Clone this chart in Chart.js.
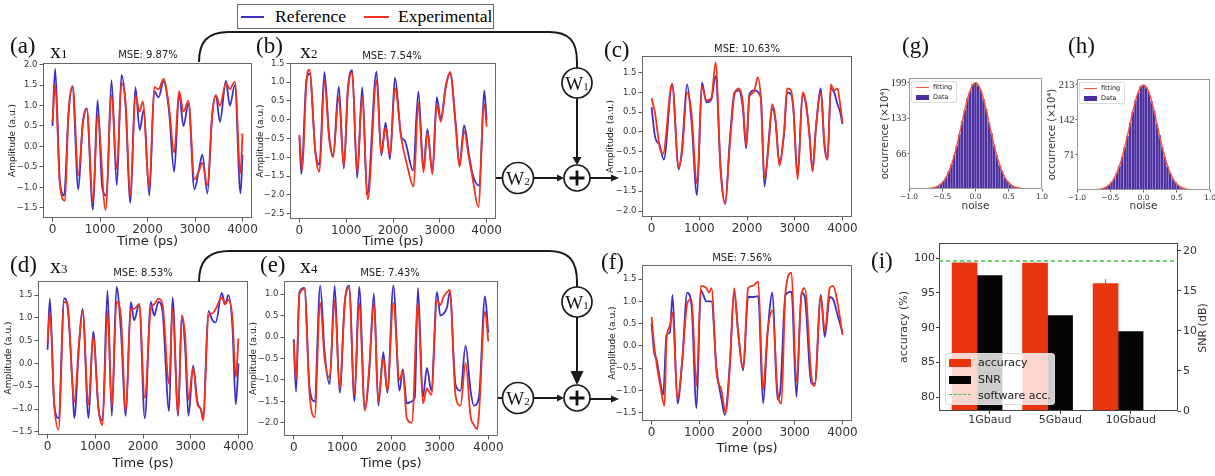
<!DOCTYPE html>
<html>
<head>
<meta charset="utf-8">
<script src="https://cdn.jsdelivr.net/npm/chart.js@4.4.1/dist/chart.umd.min.js"></script>
<style>
body { margin: 0; background: #fff; font-family: "DejaVu Sans", sans-serif; }
#page { position: relative; width: 1215px; height: 476px; overflow: hidden; font-family: "DejaVu Sans", sans-serif; }
canvas { position: absolute; }
.lbl { position: absolute; font-family: "Liberation Serif", serif; font-size: 23px; line-height: 1; color: #111; white-space: nowrap; }
.var { position: absolute; font-family: "Liberation Serif", serif; font-size: 22px; line-height: 1; color: #111; white-space: nowrap; }
.var span { font-size: 13px; }
.mse { position: absolute; font-size: 10px; color: #222; transform: translate(-50%, -50%); white-space: nowrap; }
.box { position: absolute; box-sizing: border-box; font-family: "DejaVu Sans", sans-serif; }
.sw { position: absolute; }
.tx { position: absolute; white-space: nowrap; line-height: 1; }
</style>
</head>
<body>
<div id="page">
  <!-- top legend -->
  <div class="box" style="left:237px;top:4px;width:257px;height:25px;border:1px solid #666;font-family:'Liberation Serif',serif;font-size:17.5px;">
    <div class="sw" id="legRef" style="left:3px;top:11px;width:23px;height:1.6px;"></div>
    <div class="tx" style="left:37px;top:3px;">Reference</div>
    <div class="sw" id="legExp" style="left:126px;top:11px;width:25px;height:1.6px;"></div>
    <div class="tx" style="left:160px;top:3px;">Experimental</div>
  </div>

  <!-- panel letters -->
  <div class="lbl" style="left:10px;top:34px;">(a)</div>
  <div class="var" style="left:50px;top:40px;">x<span>1</span></div>
  <div class="lbl" style="left:256px;top:34px;">(b)</div>
  <div class="var" style="left:300px;top:40px;">x<span>2</span></div>
  <div class="lbl" style="left:604px;top:38px;">(c)</div>
  <div class="lbl" style="left:10px;top:253px;">(d)</div>
  <div class="var" style="left:50px;top:255px;">x<span>3</span></div>
  <div class="lbl" style="left:260px;top:253px;">(e)</div>
  <div class="var" style="left:300px;top:255px;">x<span>4</span></div>
  <div class="lbl" style="left:601px;top:250px;">(f)</div>
  <div class="lbl" style="left:902px;top:34px;">(g)</div>
  <div class="lbl" style="left:1068px;top:34px;">(h)</div>
  <div class="lbl" style="left:871px;top:249px;">(i)</div>

  <div class="mse" style="left:148px;top:54px;">MSE: 9.87%</div>
  <div class="mse" style="left:392px;top:55px;">MSE: 7.54%</div>
  <div class="mse" style="left:747px;top:48px;">MSE: 10.63%</div>
  <div class="mse" style="left:143px;top:272px;">MSE: 8.53%</div>
  <div class="mse" style="left:390px;top:272px;">MSE: 7.43%</div>
  <div class="mse" style="left:742px;top:257px;">MSE: 7.56%</div>
</div>

<script>
// ---- data ----
// [time (ps), amplitude (a.u.)]
const aRef = [[0,0.5],[56,1.9],[154,-0.85],[244,-1.2],[335,0.75],[419,1.45],[544,-1.05],[635,0.55],[719,0.93],[852,-1.55],[949,1.13],[1047,-1.0],[1138,-1.2],[1242,1.62],[1354,-0.95],[1452,1.75],[1536,1.05],[1640,-1.38],[1745,1.45],[1836,0.4],[1920,0.9],[2038,-1.2],[2143,1.35],[2234,1.2],[2338,1.6],[2450,0.9],[2562,-0.62],[2666,1.3],[2757,0.5],[2862,1.05],[2987,-1.05],[3085,-0.55],[3155,-0.2],[3260,-1.15],[3364,0.8],[3441,1.25],[3525,0.6],[3650,1.6],[3734,1.0],[3839,1.5],[3958,-1.15],[4000,-0.2]];
const aExp = [[0,0.6],[56,1.52],[154,-0.9],[262,-1.33],[335,0.8],[425,1.48],[544,-0.7],[640,0.55],[722,0.92],[852,-1.35],[949,0.77],[1117,-1.55],[1242,1.25],[1354,-0.55],[1452,1.55],[1536,1.1],[1640,-1.2],[1745,1.25],[1836,0.85],[1900,1.1],[2038,-1.0],[2143,1.45],[2234,1.4],[2338,1.65],[2450,1.0],[2562,-0.15],[2666,1.35],[2757,0.85],[2862,1.12],[2987,-0.8],[3085,-0.6],[3155,-0.4],[3260,-0.95],[3364,0.8],[3441,1.25],[3525,1.0],[3650,1.55],[3734,1.4],[3839,1.58],[3958,-0.65],[4000,0.32]];

const bRef = [[0,-0.45],[43,-1.45],[150,1.05],[221,1.23],[343,-0.85],[428,-1.2],[535,1.27],[635,-0.4],[721,-0.95],[842,0.88],[950,-1.3],[1035,0.8],[1128,1.32],[1235,-1.55],[1342,0.87],[1449,-2.0],[1649,1.28],[1750,-0.95],[1842,-0.08],[1935,-1.05],[2042,1.12],[2178,-0.45],[2250,-0.55],[2428,-1.35],[2542,0.75],[2650,-1.3],[2735,-0.25],[2842,-1.4],[2935,0.6],[3020,0.02],[3127,0.9],[3220,1.25],[3340,-0.1],[3420,-1.2],[3520,-0.15],[3620,-0.9],[3700,-1.45],[3845,-1.75],[3948,0.78],[4000,0.0]];
const bExp = [[0,-0.4],[60,-1.35],[150,1.0],[215,1.33],[343,-0.9],[430,-1.38],[535,1.05],[635,-0.5],[721,-1.0],[842,0.6],[950,-1.25],[1035,0.75],[1128,1.25],[1235,-1.4],[1342,0.6],[1460,-2.12],[1649,1.05],[1750,-0.9],[1842,-0.2],[1935,-0.95],[2042,0.85],[2178,-0.5],[2300,-1.2],[2440,-1.78],[2542,0.45],[2650,-1.4],[2735,-0.35],[2842,-1.45],[2935,0.4],[3020,-0.05],[3127,0.85],[3220,1.27],[3340,-0.2],[3420,-1.25],[3520,-0.3],[3620,-1.0],[3700,-1.55],[3822,-2.32],[3948,0.42],[4000,-0.18]];

const cRef = [[0,0.63],[70,-0.1],[174,-0.35],[257,-0.7],[431,1.2],[570,-0.95],[640,-0.4],[744,1.2],[835,0.3],[953,-1.6],[1057,1.25],[1148,0.75],[1252,0.82],[1343,1.42],[1447,-0.9],[1544,-1.82],[1635,-0.3],[1739,1.0],[1830,1.05],[1913,0.6],[1983,-0.42],[2052,0.95],[2143,1.05],[2290,0.88],[2365,-1.38],[2456,-0.2],[2525,0.6],[2595,0.3],[2678,-0.75],[2783,0.05],[2838,1.0],[2922,0.95],[2971,0.6],[3061,-1.1],[3165,0.95],[3235,0.7],[3305,0.0],[3374,-0.95],[3444,0.1],[3548,1.1],[3618,-0.3],[3687,-0.7],[3757,1.1],[3826,1.0],[3896,0.7],[3952,0.5],[4000,0.2]];
const cExp = [[0,0.85],[70,0.5],[174,-0.4],[240,-0.55],[431,1.22],[570,-0.9],[640,-0.5],[744,1.0],[835,0.5],[953,-1.3],[1057,1.15],[1148,0.8],[1252,0.85],[1343,1.75],[1447,-1.0],[1544,-1.82],[1635,-0.4],[1739,0.95],[1830,1.1],[1913,0.75],[1983,-0.35],[2052,0.9],[2143,1.0],[2226,1.38],[2290,0.85],[2365,-1.15],[2456,-0.3],[2525,0.7],[2595,0.35],[2678,-0.85],[2783,0.1],[2838,1.1],[2922,1.05],[2971,0.6],[3061,-1.2],[3165,1.0],[3235,0.75],[3305,-0.05],[3374,-1.0],[3444,0.1],[3548,1.0],[3618,-0.2],[3687,-0.7],[3757,1.2],[3826,1.05],[3896,1.1],[3952,0.7],[4000,0.25]];

const dRef = [[0,0.3],[49,1.42],[140,-0.9],[230,-1.2],[349,1.43],[419,1.25],[524,-0.5],[558,-1.2],[663,0.45],[733,1.2],[859,-1.2],[956,0.7],[1068,-1.0],[1152,-1.25],[1256,1.6],[1347,-1.15],[1445,1.68],[1536,0.75],[1640,-1.15],[1745,1.35],[1815,0.95],[1920,1.3],[2038,-1.2],[2164,1.35],[2234,1.05],[2324,1.35],[2408,1.15],[2548,-1.05],[2618,1.45],[2736,-1.15],[2813,1.05],[2883,0.35],[2953,-1.15],[3050,-0.05],[3141,-0.85],[3211,-1.0],[3260,-1.2],[3371,1.15],[3455,0.95],[3525,0.9],[3650,1.55],[3720,1.3],[3790,1.5],[3874,0.8],[3944,-0.9],[4000,0.0]];
const dExp = [[0,0.45],[49,1.12],[140,-0.9],[230,-1.45],[349,1.35],[419,1.3],[524,-0.5],[558,-0.85],[663,0.5],[733,1.15],[859,-0.9],[956,0.58],[1068,-1.0],[1152,-1.35],[1256,1.15],[1347,-0.95],[1445,1.35],[1536,1.05],[1640,-1.05],[1745,1.2],[1815,1.2],[1920,1.3],[2038,-0.75],[2164,1.2],[2234,1.3],[2324,1.42],[2408,1.3],[2548,-0.45],[2618,1.2],[2736,-1.1],[2813,1.05],[2883,0.6],[2953,-0.8],[3050,-0.1],[3141,-0.9],[3211,-1.0],[3260,-1.25],[3371,1.05],[3455,1.1],[3525,1.2],[3650,1.45],[3720,1.3],[3790,1.4],[3874,1.0],[3944,-0.3],[4000,0.55]];

const eRef = [[0,-0.05],[48,-1.28],[117,1.05],[221,1.15],[324,-1.15],[428,-1.5],[545,1.2],[635,-0.35],[738,-1.1],[842,1.2],[945,-1.3],[1049,0.8],[1138,1.2],[1249,-1.5],[1345,1.17],[1463,-1.68],[1553,-0.8],[1649,1.02],[1739,-1.6],[1842,-0.35],[1925,-1.3],[2049,1.2],[2174,-1.25],[2243,-0.75],[2325,-1.55],[2429,-1.5],[2490,-1.4],[2553,1.15],[2657,-1.4],[2739,-0.72],[2829,-1.25],[2946,1.05],[3015,0.5],[3084,0.55],[3153,0.7],[3209,1.05],[3326,-1.1],[3429,-1.25],[3533,-0.2],[3636,-1.25],[3705,-1.6],[3808,-1.4],[3933,0.95],[4000,0.1]];
const eExp = [[0,-0.1],[48,-1.0],[117,1.0],[221,1.12],[324,-1.3],[428,-1.87],[545,0.8],[635,-0.5],[738,-0.95],[842,0.85],[945,-1.2],[1049,0.8],[1138,1.15],[1249,-1.35],[1345,0.8],[1463,-1.72],[1553,-0.7],[1649,0.8],[1739,-1.5],[1842,-0.5],[1925,-1.25],[2049,0.8],[2174,-1.0],[2243,-0.8],[2325,-1.9],[2429,-2.0],[2553,0.8],[2657,-1.55],[2739,-1.2],[2829,-1.35],[2946,0.85],[3015,0.75],[3084,0.95],[3153,1.05],[3209,1.1],[3326,-1.35],[3429,-1.6],[3533,-0.6],[3636,-1.85],[3705,-2.05],[3770,-2.15],[3808,-1.8],[3933,0.6],[4000,-0.1]];

const fRef = [[0,0.5],[56,-0.15],[105,-0.3],[175,-0.75],[244,-1.1],[314,0.25],[384,0.3],[440,1.15],[544,-1.3],[642,-0.35],[747,1.2],[838,0.9],[942,-1.4],[1033,1.25],[1152,1.0],[1256,1.0],[1361,-0.5],[1466,-1.2],[1536,-1.55],[1640,-0.4],[1731,1.2],[1815,0.3],[1920,-0.55],[2024,1.1],[2129,1.1],[2234,1.12],[2338,-1.3],[2429,0.25],[2534,1.2],[2638,-1.2],[2694,-1.05],[2806,1.15],[2932,1.22],[3036,-1.15],[3141,1.2],[3211,1.1],[3350,-0.85],[3420,-0.85],[3546,1.15],[3630,0.2],[3734,1.1],[3804,1.05],[3909,0.65],[4000,0.3]];
const fExp = [[0,0.65],[56,0.0],[105,-0.4],[175,-0.85],[270,-1.35],[314,0.15],[384,0.45],[440,0.75],[544,-1.2],[642,-0.35],[747,0.95],[838,1.05],[942,-0.9],[1033,1.35],[1152,1.3],[1200,1.2],[1256,1.3],[1361,-0.6],[1466,-1.0],[1550,-1.5],[1640,-0.5],[1731,1.3],[1815,0.3],[1920,-0.5],[2024,1.3],[2129,1.35],[2234,1.45],[2338,-1.0],[2429,0.3],[2534,0.8],[2638,-1.0],[2720,-1.3],[2806,1.2],[2932,1.65],[3036,-0.8],[3141,1.15],[3211,1.3],[3350,-0.7],[3420,-0.9],[3546,1.1],[3630,0.35],[3734,1.3],[3804,1.35],[3909,0.9],[4000,0.25]];

const timeTicks = [0, 1000, 2000, 3000, 4000];

// noise histograms (g), (h): bin centres and counts (x10^4)
const noiseBins = [-0.68,-0.64,-0.60,-0.56,-0.52,-0.48,-0.44,-0.40,-0.36,-0.32,-0.28,-0.24,-0.20,-0.16,-0.12,-0.08,-0.04,0.00,0.04,0.08,0.12,0.16,0.20,0.24,0.28,0.32,0.36,0.40,0.44,0.48,0.52,0.56,0.60,0.64,0.68];
const gCounts = [1,2,4,6,10,15,23,33,46,63,81,103,127,148,170,184,197,199,194,186,168,150,125,105,81,63,45,33,21,15,9,5,3,2,1];
const hCounts = [1,2,4,6,10,16,24,35,49,67,87,110,136,159,182,197,211,213,208,199,180,161,134,112,87,67,48,35,23,16,10,6,3,2,1];
const fitNoise = [-1,-0.95,-0.9,-0.85,-0.8,-0.75,-0.7,-0.65,-0.6,-0.55,-0.5,-0.45,-0.4,-0.35,-0.3,-0.25,-0.2,-0.15,-0.1,-0.05,0,0.05,0.1,0.15,0.2,0.25,0.3,0.35,0.4,0.45,0.5,0.55,0.6,0.65,0.7,0.75,0.8,0.85,0.9,0.95,1];
const gFit = [0,0,0,0,0.1,0.3,0.8,1.7,3.4,6.4,11.7,20,32.5,49.6,71.7,98,126.4,154.2,177.7,193.4,199,193.4,177.7,154.2,126.4,98,71.7,49.6,32.5,20,11.7,6.4,3.4,1.7,0.8,0.3,0.1,0,0,0,0];
const hFit = [0,0,0,0,0.1,0.3,0.9,1.8,3.6,6.8,12.5,21,35,53,77,105,135,165,190,207,213,207,190,165,135,105,77,53,35,21,12.5,6.8,3.6,1.8,0.9,0.3,0.1,0,0,0,0];
const noiseTicks = [-1, -0.5, 0, 0.5, 1];
const gTicks = [66, 133, 199];
const hTicks = [71, 142, 213];

// (i) accuracy / SNR
const speeds = ['1Gbaud', '5Gbaud', '10Gbaud'];
const accuracy = [99.35, 99.3, 96.35];
const accErr = [0.15, 0.15, 0.65];
const snr = [16.9, 11.9, 9.9];
const softwareAcc = 99.6;
const accTicks = [80, 85, 90, 95, 100];
const snrTicks = [0, 5, 10, 15, 20];

const BLUE = '#3c2ec6';
const RED = '#f5311b';
const PURPLE = '#4a2d9e';

Chart.defaults.font.family = '"DejaVu Sans", sans-serif';
Chart.defaults.color = '#333';
Chart.defaults.animation = false;

document.getElementById('legRef').style.background = BLUE;
document.getElementById('legExp').style.background = RED;

const page = document.getElementById('page');

function place(left, top, width, height) {
    const c = document.createElement('canvas');
    c.width = Math.round(width);
    c.height = Math.round(height);
    c.style.left = left + 'px';
    c.style.top = top + 'px';
    page.insertBefore(c, page.firstChild);
    return c;
}

function frame(color) {
    return {
        id: 'frame',
        afterDatasetsDraw(chart) {
            const {ctx, chartArea: a} = chart;
            ctx.save();
            ctx.strokeStyle = color;
            ctx.lineWidth = 1;
            ctx.strokeRect(a.left + 0.5, a.top + 0.5, a.right - a.left - 1, a.bottom - a.top - 1);
            ctx.restore();
        }
    };
}

const pts = arr => arr.map(([x, y]) => ({x, y}));
const fmt1 = v => (v < 0 ? '\u2212' : '') + Math.abs(v).toFixed(1);
const fixTicks = list => axis => { axis.ticks = list.map(v => ({value: v})); };

// one amplitude-vs-time panel; g holds the plot box in page pixels
function linePanel(g, ref, exp) {
    const padT = 8, padR = 9;
    const left = Math.round(g.ytx - 5.4);
    const top = g.T - padT;
    const bottom = g.xty ? Math.round(g.xty + 7.8) : g.B + 22;
    const yW = g.L - left, xH = bottom - g.B;
    const c = place(left, top, g.R + padR - left, bottom - top);
    const line = (label, data, color, order) => ({
        label, data: pts(data), borderColor: color, borderWidth: 1.8, order,
        showLine: true, pointRadius: 0, cubicInterpolationMode: 'monotone'
    });
    return new Chart(c, {
        type: 'scatter',
        data: {datasets: [line('Reference', ref, BLUE, 2), line('Experimental', exp, RED, 1)]},
        options: {
            responsive: false,
            layout: {padding: {top: padT, right: padR, left: 0, bottom: 0}},
            plugins: {legend: {display: false}, tooltip: {enabled: false}},
            scales: {
                x: {
                    type: 'linear', min: -200, max: 4200,
                    afterBuildTicks: fixTicks(timeTicks),
                    afterFit: s => { s.height = xH; s.paddingLeft = 0; s.paddingRight = 0; },
                    ticks: {font: {size: 12}, padding: 1, autoSkip: false, maxRotation: 0, callback: v => String(v)},
                    grid: {drawOnChartArea: false, tickLength: 3.5, color: '#555'},
                    border: {display: false},
                    title: {display: !!g.xty, text: 'Time (ps)', font: {size: 13}, padding: 0, color: '#222'}
                },
                y: {
                    min: g.ymin, max: g.ymax,
                    afterBuildTicks: fixTicks(g.ticks),
                    afterFit: s => { s.width = yW; s.paddingTop = 0; s.paddingBottom = 0; },
                    ticks: {font: {size: 8.5}, padding: 2, autoSkip: false, callback: fmt1},
                    grid: {drawOnChartArea: false, tickLength: 3.5, color: '#555'},
                    border: {display: false},
                    title: {display: true, text: 'Amplitude (a.u.)', font: {size: 9}, padding: 0, color: '#222'}
                }
            }
        },
        plugins: [frame('#666')]
    });
}

linePanel({L: 43, R: 252, T: 63, B: 218, ytx: 12, xty: 241, ymin: -1.75, ymax: 2.04, ticks: [-1.5,-1,-0.5,0,0.5,1,1.5,2]}, aRef, aExp);
linePanel({L: 290, R: 496, T: 63, B: 219, ytx: 260, xty: 241, ymin: -2.64, ymax: 1.51, ticks: [-2.5,-2,-1.5,-1,-0.5,0,0.5,1,1.5]}, bRef, bExp);
linePanel({L: 642, R: 852, T: 56, B: 217, ytx: 610, xty: null, ymin: -2.15, ymax: 1.92, ticks: [-2,-1.5,-1,-0.5,0,0.5,1,1.5]}, cRef, cExp);
linePanel({L: 38, R: 248, T: 281, B: 435, ytx: 8, xty: 463, ymin: -1.57, ymax: 1.81, ticks: [-1.5,-1,-0.5,0,0.5,1,1.5]}, dRef, dExp);
linePanel({L: 284, R: 498, T: 281, B: 436, ytx: 253, xty: 463, ymin: -2.31, ymax: 1.31, ticks: [-2,-1.5,-1,-0.5,0,0.5,1]}, eRef, eExp);
linePanel({L: 642, R: 852, T: 265, B: 421, ytx: 612, xty: 448, ymin: -1.69, ymax: 1.82, ticks: [-1.5,-1,-0.5,0,0.5,1,1.5]}, fRef, fExp);

// noise histogram with gaussian fit
function histPanel(g, counts, fit, ymax, ticks) {
    const padT = 8;
    const left = Math.round(g.ytx - 6);
    const top = g.T - padT;
    const bottom = 213;
    const right = Math.min(1215, g.R + 7);
    const yW = g.L - left, xH = bottom - g.B;
    const c = place(left, top, right - left, bottom - top);
    return new Chart(c, {
        type: 'bar',
        data: {datasets: [
            {type: 'line', label: 'fitting', data: fitNoise.map((x, i) => ({x, y: fit[i]})), borderColor: '#f4553f',
             borderWidth: 1.5, pointRadius: 0, cubicInterpolationMode: 'monotone', order: 0},
            {type: 'bar', label: 'Data', data: noiseBins.map((x, i) => ({x, y: counts[i]})), backgroundColor: PURPLE,
             borderColor: 'rgba(190,180,235,0.7)', borderWidth: 0.5, barPercentage: 1, categoryPercentage: 1, order: 1}
        ]},
        options: {
            responsive: false,
            layout: {padding: {top: padT, right: right - g.R, left: 0, bottom: 0}},
            plugins: {legend: {display: false}, tooltip: {enabled: false}},
            scales: {
                x: {
                    type: 'linear', min: -1, max: 1, offset: false,
                    afterBuildTicks: fixTicks(noiseTicks),
                    afterFit: s => { s.height = xH; s.paddingLeft = 0; s.paddingRight = 0; },
                    ticks: {font: {size: 7.5}, padding: 1, autoSkip: false, maxRotation: 0, callback: fmt1},
                    grid: {drawOnChartArea: false, offset: false, tickLength: 2.5, color: '#666'},
                    border: {display: false},
                    title: {display: true, text: 'noise', font: {size: 10.5}, padding: 0, color: '#333'}
                },
                y: {
                    min: 0, max: ymax,
                    afterBuildTicks: fixTicks(ticks),
                    afterFit: s => { s.width = yW; s.paddingTop = 0; s.paddingBottom = 0; },
                    ticks: {font: {size: 10.5, family: '"Liberation Serif", serif'}, padding: 1, autoSkip: false},
                    grid: {drawOnChartArea: false, tickLength: 1.5, color: '#666'},
                    border: {display: false},
                    title: {display: true, text: 'occurrence (\u00d710\u2074)', font: {size: 10}, padding: 0, color: '#333'}
                }
            }
        },
        plugins: [frame('#999')]
    });
}

histPanel({L: 909, R: 1042, T: 78, B: 189, ytx: 885}, gCounts, gFit, 208, gTicks);
histPanel({L: 1077, R: 1210, T: 79, B: 190, ytx: 1052}, hCounts, hFit, 225, hTicks);

// (i) accuracy (left) and SNR (right)
const accExtras = {
    id: 'accExtras',
    afterDatasetsDraw(chart) {
        const {ctx, chartArea: a, scales: {y}} = chart;
        const meta = chart.getDatasetMeta(0);
        ctx.save();
        ctx.strokeStyle = '#777';
        ctx.lineWidth = 1.2;
        meta.data.forEach((bar, i) => {
            ctx.beginPath();
            ctx.moveTo(bar.x, y.getPixelForValue(accuracy[i] + accErr[i]));
            ctx.lineTo(bar.x, y.getPixelForValue(accuracy[i] - accErr[i]));
            ctx.stroke();
        });
        const ys = y.getPixelForValue(softwareAcc);
        ctx.strokeStyle = '#3fc43f';
        ctx.lineWidth = 1.4;
        ctx.setLineDash([4, 3]);
        ctx.beginPath();
        ctx.moveTo(a.left, ys);
        ctx.lineTo(a.right, ys);
        ctx.stroke();
        ctx.restore();
    }
};

(function () {
    const L = 939, R = 1178, T = 243, B = 411;
    const left = Math.round(905 - 6.6), top = T - 8, right = 1215, bottom = B + 20;
    const c = place(left, top, right - left, bottom - top);
    new Chart(c, {
        type: 'bar',
        data: {datasets: [
            {label: 'accuracy', data: accuracy.map((v, i) => ({x: i, y: v})), yAxisID: 'y',
             backgroundColor: '#e8350f', barThickness: 25},
            {label: 'SNR', data: snr.map((v, i) => ({x: i, y: v})), yAxisID: 'y1',
             backgroundColor: '#050505', barThickness: 25}
        ]},
        options: {
            responsive: false,
            layout: {padding: {top: 8, right: 0, left: 0, bottom: 0}},
            plugins: {legend: {display: false}, tooltip: {enabled: false}},
            scales: {
                x: {
                    type: 'linear', min: -0.54, max: 2.85, offset: false,
                    afterBuildTicks: fixTicks([0.18, 1.18, 2.18]),
                    afterFit: s => { s.height = bottom - B; s.paddingLeft = 0; s.paddingRight = 0; },
                    ticks: {font: {size: 11}, padding: 0, autoSkip: false, maxRotation: 0, callback: (v, i) => speeds[i]},
                    grid: {drawOnChartArea: false, offset: false, tickLength: 3, color: '#333'},
                    border: {display: false}
                },
                y: {
                    position: 'left', min: 78, max: 102.2,
                    afterBuildTicks: fixTicks(accTicks),
                    afterFit: s => { s.width = L - left; s.paddingTop = 0; s.paddingBottom = 0; },
                    ticks: {font: {size: 11}, padding: 1, autoSkip: false},
                    grid: {drawOnChartArea: false, tickLength: 3, color: '#333'},
                    border: {display: false},
                    title: {display: true, text: 'accuracy (%)', font: {size: 11}, padding: 0, color: '#333'}
                },
                y1: {
                    position: 'right', min: 0, max: 20.96,
                    afterBuildTicks: fixTicks(snrTicks),
                    afterFit: s => { s.width = right - R; s.paddingTop = 0; s.paddingBottom = 0; },
                    ticks: {font: {size: 11}, padding: 2, autoSkip: false},
                    grid: {drawOnChartArea: false, tickLength: 3, color: '#333'},
                    border: {display: false}
                }
            }
        },
        plugins: [frame('#444'), accExtras]
    });
})();
</script>

<!-- diagram overlay and small legends -->
<svg width="1215" height="476" style="position:absolute;left:0;top:0;pointer-events:none;" xmlns="http://www.w3.org/2000/svg">
  <g fill="none" stroke="#1a1a1a" stroke-width="2">
    <path d="M199,62 C199,42 207,32 229,32 L549,32 C569,32 577,41 577,62 L577,68"/>
    <path d="M577,98 L577,158"/>
    <path d="M496,178 L502.5,178"/>
    <path d="M533.5,178 L558,178"/>
    <path d="M590,178 L612,178"/>
    <path d="M199,282 C199,262 207,251 229,251 L549,251 C569,251 577,261 577,282 L577,287"/>
    <path d="M577,317 L577,372"/>
    <path d="M498,398 L502.5,398"/>
    <path d="M533.5,398 L558,398"/>
    <path d="M590,399 L612,399"/>
  </g>
  <g fill="#1a1a1a">
    <polygon points="572.5,157 581.5,157 577,165"/>
    <polygon points="557,174.5 557,181.5 564,178"/>
    <polygon points="611,174.5 611,181.5 619,178"/>
    <polygon points="570.5,371 583.5,371 577,385"/>
    <polygon points="557,394.5 557,401.5 564,398"/>
    <polygon points="611,395.5 611,402.5 619,399"/>
  </g>
  <g fill="#fff" stroke="#1a1a1a" stroke-width="1.7">
    <circle cx="577" cy="83" r="15"/>
    <circle cx="518" cy="178" r="15.5"/>
    <circle cx="577" cy="178" r="13"/>
    <circle cx="577" cy="302" r="15"/>
    <circle cx="518" cy="398" r="15.5"/>
    <circle cx="577" cy="398" r="13"/>
  </g>
  <g stroke="#111" stroke-width="2.8">
    <path d="M569.5,178 H584.5 M577,170.5 V185.5"/>
    <path d="M569.5,398 H584.5 M577,390.5 V405.5"/>
  </g>
  <g font-family="Liberation Serif, serif" font-size="19" fill="#111" text-anchor="middle">
    <text x="577" y="89.5">W<tspan font-size="11">1</tspan></text>
    <text x="518" y="184.5">W<tspan font-size="11">2</tspan></text>
    <text x="577" y="308.5">W<tspan font-size="11">1</tspan></text>
    <text x="518" y="404.5">W<tspan font-size="11">2</tspan></text>
  </g>
</svg>

<div style="position:absolute;left:0;top:0;font-family:'DejaVu Sans',sans-serif;">
  <!-- (g) legend -->
  <div class="box" style="left:911px;top:81px;width:46px;height:22px;background:rgba(255,255,255,0.85);border:1px solid #ddd;border-radius:2px;font-size:6.5px;color:#222;">
    <div class="sw" style="left:4px;top:5px;width:13px;height:1.4px;background:#f4553f;"></div>
    <div class="tx" style="left:21px;top:2px;">fitting</div>
    <div class="sw" style="left:4px;top:13px;width:13px;height:5px;background:#4a2d9e;"></div>
    <div class="tx" style="left:21px;top:12px;">Data</div>
  </div>
  <!-- (h) legend -->
  <div class="box" style="left:1079px;top:82px;width:46px;height:22px;background:rgba(255,255,255,0.85);border:1px solid #ddd;border-radius:2px;font-size:6.5px;color:#222;">
    <div class="sw" style="left:4px;top:5px;width:13px;height:1.4px;background:#f4553f;"></div>
    <div class="tx" style="left:21px;top:2px;">fitting</div>
    <div class="sw" style="left:4px;top:13px;width:13px;height:5px;background:#4a2d9e;"></div>
    <div class="tx" style="left:21px;top:12px;">Data</div>
  </div>
  <!-- (i) legend -->
  <div class="box" style="left:945px;top:353px;width:110px;height:52px;background:rgba(255,255,255,0.8);border:1px solid #ddd;border-radius:3px;font-size:11px;color:#222;">
    <div class="sw" style="left:3px;top:5px;width:22px;height:8px;background:#e8350f;"></div>
    <div class="tx" style="left:32px;top:3px;">accuracy</div>
    <div class="sw" style="left:3px;top:22px;width:22px;height:8px;background:#050505;"></div>
    <div class="tx" style="left:32px;top:20px;">SNR</div>
    <div class="sw" style="left:3px;top:40px;width:22px;height:0;border-top:1.5px dashed #3fc43f;"></div>
    <div class="tx" style="left:32px;top:36px;">software acc.</div>
  </div>
  <div class="tx" style="left:1202px;top:328px;font-size:11px;color:#333;transform:translate(-50%,-50%) rotate(-90deg);">SNR (dB)</div>
</div>
</body>
</html>
